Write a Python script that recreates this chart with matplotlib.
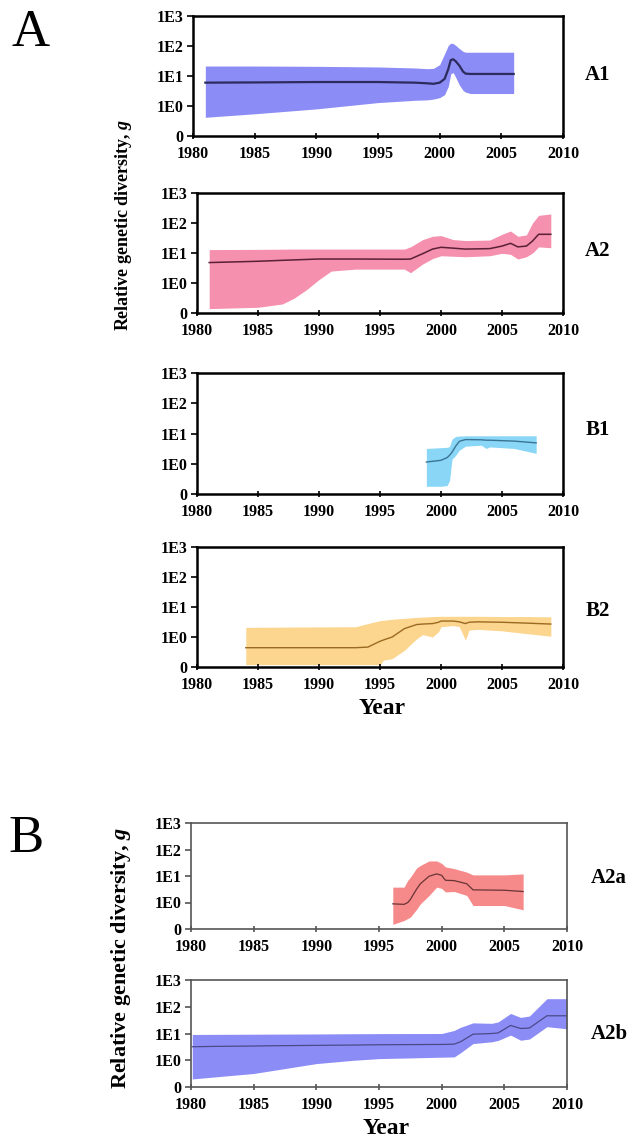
import matplotlib
matplotlib.use("Agg")
import matplotlib.pyplot as plt
from matplotlib.ticker import NullLocator

plt.rcParams['font.family'] = ['Liberation Serif', 'DejaVu Serif']
plt.rcParams['font.weight'] = 'bold'
plt.rcParams['mathtext.fontset'] = 'custom'
plt.rcParams['mathtext.it'] = 'Liberation Serif:italic:bold'
plt.rcParams['mathtext.rm'] = 'Liberation Serif:bold'

# ---------------- data ----------------
year_ticks = [1980, 1985, 1990, 1995, 2000, 2005, 2010]
g_ticks = [0.1, 1, 10, 100, 1000]
g_tick_labels = ['0', '1E0', '1E1', '1E2', '1E3']

a1_years = [1981, 1985, 1990, 1995, 1998, 1999, 1999.5, 2000, 2000.4, 2000.7, 2000.9, 2001.1, 2001.3, 2001.6, 2001.9, 2002.1, 2002.5, 2004, 2006]
a1_median = [6.0, 6.1, 6.3, 6.3, 6.0, 5.7, 5.5, 6.0, 8.0, 17, 34, 36, 31, 22, 14, 12.0, 11.7, 11.7, 11.7]
a1_upper = [21.5, 21.5, 21, 20, 18.5, 17.5, 18, 24, 55, 105, 125, 120, 105, 82, 66, 62, 62, 62, 62]
a1_lower = [0.42, 0.55, 0.8, 1.3, 1.55, 1.6, 1.7, 1.9, 2.4, 4.5, 12, 13, 9, 5, 3.3, 2.9, 2.6, 2.6, 2.6]

a2_years = [1981, 1985, 1987, 1988, 1989, 1990, 1991, 1993, 1997, 1997.5, 1998.5, 1999.3, 2000, 2001, 2002, 2004, 2005, 2005.7, 2006.3, 2007, 2007.5, 2008, 2009]
a2_median = [4.8, 5.3, 5.7, 5.9, 6.1, 6.3, 6.3, 6.3, 6.2, 6.3, 9.5, 13.5, 15.5, 14.5, 13.5, 14, 17, 21, 16, 17, 25, 42, 42]
a2_upper = [13, 13.2, 13.4, 13.5, 13.5, 13.5, 13.5, 13.5, 13.5, 16, 28, 36, 38, 28, 26, 27, 42, 54, 36, 40, 100, 180, 200]
a2_lower = [0.14, 0.155, 0.2, 0.32, 0.61, 1.3, 2.5, 2.9, 2.9, 2.2, 4.3, 6.5, 8.1, 7.8, 7.5, 8.1, 9.8, 9.0, 6.3, 7.5, 10, 16, 15]

b1_years = [1998.8, 2000.0, 2000.5, 2000.7, 2000.9, 2001.2, 2001.5, 2002, 2003.3, 2003.7, 2004, 2006, 2007.8]
b1_median = [1.14, 1.3, 1.6, 1.9, 2.4, 3.8, 5.5, 6.3, 6.2, 6.0, 6.0, 5.6, 4.9]
b1_upper = [3.2, 3.4, 3.5, 3.7, 6.5, 8.0, 8.2, 8.4, 8.4, 8.4, 8.4, 8.4, 8.4]
b1_lower = [0.18, 0.18, 0.19, 0.28, 1.4, 1.9, 2.8, 3.8, 4.1, 3.2, 3.6, 3.2, 2.2]

b2_years = [1984, 1993, 1994, 1995, 1995.3, 1996, 1997, 1998, 1998.5, 1999.3, 1999.8, 2000, 2001, 2001.5, 2002, 2002.3, 2003, 2005, 2007, 2009]
b2_median = [0.44, 0.44, 0.46, 0.72, 0.8, 1.0, 1.9, 2.6, 2.7, 2.8, 3.1, 3.4, 3.4, 3.2, 2.8, 3.1, 3.2, 3.1, 2.9, 2.7]
b2_upper = [2.1, 2.2, 2.8, 3.5, 3.6, 3.9, 4.2, 4.5, 4.6, 4.8, 4.9, 4.9, 4.9, 4.9, 4.9, 4.9, 4.9, 4.8, 4.8, 4.7]
b2_lower = [0.12, 0.12, 0.12, 0.12, 0.17, 0.19, 0.36, 0.87, 1.2, 1.0, 1.5, 2.2, 2.4, 2.2, 0.78, 1.7, 1.8, 1.6, 1.3, 1.06]

a2a_years = [1996.1, 1997.0, 1997.3, 1997.5, 1998.0, 1998.3, 1999.0, 1999.6, 2000.0, 2000.3, 2001.0, 2002.0, 2002.5, 2005.0, 2006.5]
a2a_median = [0.89, 0.85, 1.0, 1.3, 3.2, 5.1, 9.8, 12, 10.6, 6.9, 6.7, 5.1, 3.0, 2.9, 2.6]
a2a_upper = [3.8, 3.8, 6.9, 9, 20, 25, 37, 37, 30, 22, 19, 14, 11, 11, 12]
a2a_lower = [0.15, 0.21, 0.25, 0.28, 0.55, 0.89, 1.85, 3.8, 3.4, 2.5, 2.6, 1.85, 0.77, 0.77, 0.53]

a2b_years = [1980.1, 1982, 1985, 1987, 1990, 1993, 1995, 2000, 2001.0, 2001.5, 2002.5, 2004.0, 2004.5, 2005.5, 2006.3, 2007.0, 2008.4, 2010]
a2b_median = [3.2, 3.3, 3.4, 3.5, 3.6, 3.7, 3.8, 3.9, 4.0, 4.9, 9.4, 10.0, 10.5, 20, 15.4, 16, 46, 46]
a2b_upper = [9.2, 9.3, 9.4, 9.5, 9.6, 9.8, 9.9, 10, 13, 17, 25, 24, 27, 56, 40, 45, 200, 200]
a2b_lower = [0.2, 0.24, 0.32, 0.45, 0.75, 1.0, 1.15, 1.3, 1.33, 1.9, 4.2, 4.9, 5.5, 8.7, 5.6, 6.2, 18, 15]

# ---------------- figure ----------------
W, H = 635, 1142
fig = plt.figure(figsize=(W / 100, H / 100), dpi=100)


def px_axes(x0, y0, x1, y1):
    return fig.add_axes([x0 / W, 1 - y1 / H, (x1 - x0) / W, (y1 - y0) / H])


panels = [
    ('A1', a1_years, a1_median, a1_upper, a1_lower, (193, 16, 563, 136), '#8c8cf6', '#2b2b5e', 1.6, 'black', 1.8, (598, 75), 15),
    ('A2', a2_years, a2_median, a2_upper, a2_lower, (197, 193, 563, 313), '#f590ae', '#5a2036', 1.1, 'black', 1.8, (598, 251), 15),
    ('B1', b1_years, b1_median, b1_upper, b1_lower, (197, 373, 563, 494), '#8ad6f6', '#3a7494', 1.0, 'black', 1.8, (598, 430), 15),
    ('B2', b2_years, b2_median, b2_upper, b2_lower, (197, 547, 563, 667), '#fcd58e', '#9a6a22', 1.0, 'black', 1.8, (598, 611), 15),
    ('A2a', a2a_years, a2a_median, a2a_upper, a2a_lower, (191, 823, 567, 929), '#f68a8a', '#6a3434', 0.9, '#555555', 1.2, (609, 878), 15),
    ('A2b', a2b_years, a2b_median, a2b_upper, a2b_lower, (191, 980, 567, 1087), '#8c8cf6', '#4a4a8a', 0.9, '#555555', 1.2, (609, 1034), 15),
]

for (name, yrs, med, up, lo, box, fc, lc, lw, sc, sw, lpos, lsize) in panels:
    ax = px_axes(*box)
    ax.fill_between(yrs, lo, up, color=fc, linewidth=0)
    ax.plot(yrs, med, color=lc, linewidth=lw)
    ax.set_yscale('log')
    ax.set_xlim(1980, 2010)
    ax.set_ylim(0.1, 1000)
    ax.set_xticks(year_ticks)
    ax.set_xticklabels([str(t) for t in year_ticks])
    ax.set_yticks(g_ticks)
    ax.set_yticklabels(g_tick_labels)
    ax.yaxis.set_minor_locator(NullLocator())
    ax.tick_params(axis='x', direction='inout', length=4, width=1.2, pad=5,
                   labelsize=11.5, colors=sc, labelcolor='black')
    ax.tick_params(axis='y', direction='out', length=4, width=1.2, pad=3,
                   labelsize=11.5, colors=sc, labelcolor='black')
    for lab in ax.get_xticklabels() + ax.get_yticklabels():
        lab.set_fontweight('bold')
    for s in ax.spines.values():
        s.set_color(sc)
        s.set_linewidth(sw)
    fig.text(lpos[0] / W, 1 - lpos[1] / H, name, ha='center', va='center',
             fontsize=lsize, fontweight='bold')

# big section letters
fig.text(31 / W, 1 - 33 / H, 'A', ha='center', va='center', fontsize=38, fontweight='normal')
fig.text(26 / W, 1 - 839 / H, 'B', ha='center', va='center', fontsize=38, fontweight='normal')

# axis titles
fig.text(123 / W, 1 - 225 / H, r'Relative genetic diversity, $g$', rotation=90,
         ha='center', va='center', fontsize=13, fontweight='bold')
fig.text(121 / W, 1 - 958 / H, r'Relative genetic diversity, $g$', rotation=90,
         ha='center', va='center', fontsize=16, fontweight='bold')
fig.text(382 / W, 1 - 708 / H, 'Year', ha='center', va='center', fontsize=17, fontweight='bold')
fig.text(386 / W, 1 - 1128 / H, 'Year', ha='center', va='center', fontsize=17, fontweight='bold')

fig.savefig('out.png', dpi=100, facecolor='white')
